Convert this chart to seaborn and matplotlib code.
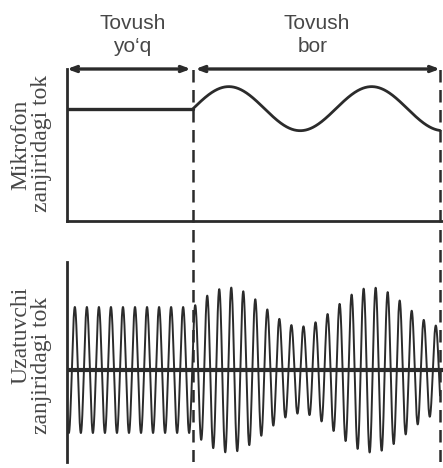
import numpy as np
import pandas as pd
import seaborn as sns
import matplotlib.pyplot as plt

# values; time runs 0..1 from the left axis to the right dashed line
t_sound = 0.338          # moment the sound starts
t_end = 1.0              # right dashed line
t_right = 1.008          # axis lines run a bit past it
mic_period = 0.383       # period of the microphone current
mic_amp = 1.0
carrier_cycles = 31      # carrier periods between the left axis and the right dashed line
carrier_peak_t = 0.021   # first crest of the carrier
carrier_amp = 1.0
mod_depth = 0.31         # envelope swing relative to the unmodulated amplitude

top_words = ['Tovush', 'yo\u2018q', 'Tovush', 'bor']
side_words = ['Mikrofon', 'zanjiridagi tok', 'Uzatuvchi', 'zanjiridagi tok']

ink = '#2b2b2b'
text_ink = '#474747'

#%% signals
t = np.linspace(0, t_end, 8000)
mic_flat = pd.DataFrame({'t': [0, t_sound], 'i': [0, 0]})
ts = t[t >= t_sound]
mic_wave = pd.DataFrame({'t': ts, 'i': mic_amp * np.sin(2 * np.pi * (ts - t_sound) / mic_period)})

env = np.where(t < t_sound, carrier_amp,
               carrier_amp * (1 + mod_depth * np.sin(2 * np.pi * (t - t_sound) / mic_period)))
carrier = pd.DataFrame({'t': t, 'i': env * np.cos(2 * np.pi * carrier_cycles * (t - carrier_peak_t))})

#%% figure
sns.set_theme(style='white')
plt.rcParams['font.family'] = ['Liberation Sans', 'DejaVu Sans']

W, H = 443, 468
fig = plt.figure(figsize=(W / 100, H / 100), dpi=100)


def box(x0, y0, x1, y1):
    return [x0 / W, 1 - y1 / H, (x1 - x0) / W, (y1 - y0) / H]


ax_top = fig.add_axes(box(67, 69, 443, 221))
ax_bot = fig.add_axes(box(67, 262, 443, 462))
ax_dash = fig.add_axes(box(67, 69, 443, 462))

# microphone current
sns.lineplot(data=mic_flat, x='t', y='i', ax=ax_top, color=ink, lw=2.4, estimator=None, sort=False)
sns.lineplot(data=mic_wave, x='t', y='i', ax=ax_top, color=ink, lw=2.0, estimator=None, sort=False)
ax_top.set_xlim(0, t_right)
ax_top.set_ylim(-5.1, 1.8)
for side in ['top', 'right']:
    ax_top.spines[side].set_visible(False)
for side in ['left', 'bottom']:
    ax_top.spines[side].set_color(ink)
    ax_top.spines[side].set_linewidth(2.0)

# time intervals: no sound / sound
for a, b in [(0, t_sound - 0.006), (t_sound + 0.006, t_end)]:
    ax_top.annotate('', xy=(a, 1.0), xytext=(b, 1.0), xycoords=('data', 'axes fraction'),
                    arrowprops=dict(arrowstyle='<->,head_length=0.4,head_width=0.15',
                                    color=ink, lw=2.4, shrinkA=0, shrinkB=0))

# transmitter current
sns.lineplot(data=carrier, x='t', y='i', ax=ax_bot, color=ink, lw=1.4, estimator=None, sort=False)
ax_bot.axhline(0, color=ink, lw=3.0)
ax_bot.set_xlim(0, t_right)
ax_bot.set_ylim(-1.46, 1.714)
for side in ['top', 'right', 'bottom']:
    ax_bot.spines[side].set_visible(False)
ax_bot.spines['left'].set_color(ink)
ax_bot.spines['left'].set_linewidth(2.0)

# dashed markers through both panels
ax_dash.set_xlim(0, t_right)
ax_dash.axis('off')
for x in [t_sound, t_end]:
    ax_dash.axvline(x, color=ink, lw=1.8, ls=(0, (5, 3)))

for ax in [ax_top, ax_bot]:
    ax.set_xticks([])
    ax.set_yticks([])
    ax.set_xlabel('')
    ax.set_ylabel('')
    ax.patch.set_alpha(0)

# captions above
for word, (x, y) in zip(top_words, [(133, 29), (132, 52), (317, 29), (313, 52)]):
    fig.text(x / W, 1 - y / H, word, ha='center', va='baseline', fontsize=15, color=text_ink)

# rotated captions on the left
for word, (x, y) in zip(side_words, [(26, 145), (47, 143), (26, 335), (47, 365)]):
    fig.text(x / W, 1 - y / H, word, rotation=90, rotation_mode='anchor', ha='center',
             va='baseline', fontsize=17, color=text_ink, family=['Liberation Serif', 'DejaVu Serif'])

fig.savefig('out.png', dpi=100)
